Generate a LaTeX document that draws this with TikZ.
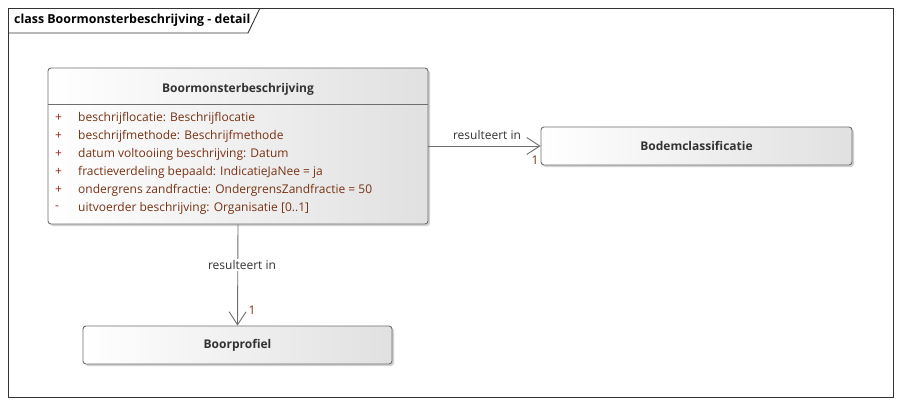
\documentclass[tikz,border=0pt]{standalone}
\usepackage{fontspec}
\setmainfont{Open Sans}
\usetikzlibrary{arrows.meta,shadows,positioning}
\definecolor{attrred}{RGB}{150,40,30}
\definecolor{attrtxt}{RGB}{120,50,20}
\definecolor{linegray}{RGB}{110,110,110}
\tikzset{
    classbox/.style={draw=linegray, line width=0.9pt, rounded corners=3pt, left color=white, right color=black!12,
        drop shadow={shadow xshift=2pt, shadow yshift=-2pt, fill=black!30, opacity=.6}},
    attr/.style={anchor=west, inner sep=0pt, font=\fontsize{12}{14}\selectfont, text=attrtxt},
    vis/.style={anchor=west, inner sep=0pt, font=\fontsize{12}{14}\selectfont, text=attrred},
    assoc/.style={draw=linegray, line width=0.9pt, -{Straight Barb[length=13pt, width=17pt]}},
    lbl/.style={inner sep=1pt, font=\fontsize{12}{14}\selectfont, text=black!80},
    cname/.style={font=\fontsize{12}{14}\selectfont\bfseries, text=black!80},
}

\begin{document}
\begin{tikzpicture}[x=1pt, y=-1pt]
    \useasboundingbox (0,0) rectangle (902,405);
    % frame and tab
    \draw[black!80, line width=0.9pt] (8,8) rectangle (893,397);
    \draw[black!80, line width=0.9pt] (8,33) -- (248,33) -- (260,8);
    \node[anchor=west, inner sep=0pt, font=\fontsize{12.4}{14}\selectfont\bfseries] (title) at (14,20) {class Boormonsterbeschrijving - detail};

    % class Boormonsterbeschrijving
    \node[classbox, minimum width=380pt, minimum height=156pt] (boor) at (238,146) {};
    \draw[linegray, line width=0.9pt] (boor.west |- 0,104) -- (boor.east |- 0,104);
    \node[cname] (boorname) at (238,89) {Boormonsterbeschrijving};
    \foreach \v/\t [count=\i] in {+/beschrijflocatie: Beschrijflocatie,
                                  +/beschrijfmethode: Beschrijfmethode,
                                  +/datum voltooiing beschrijving: Datum,
                                  +/fractieverdeling bepaald: IndicatieJaNee = ja,
                                  +/ondergrens zandfractie: OndergrensZandfractie = 50,
                                  -/uitvoerder beschrijving: Organisatie [0..1]} {
        \node[vis] (v\i) at (55,{100+18*\i}) {\v};
        \node[attr] (a\i) at (78,{100+18*\i}) {\t};
    }

    % other classes
    \node[classbox, minimum width=311pt, minimum height=38pt] (bodem) at (696.5,146) {};
    \node[cname] (bodemname) at (bodem) {Bodemclassificatie};
    \node[classbox, minimum width=309pt, minimum height=38pt] (profiel) at (237.5,345) {};
    \node[cname] (profielname) at (profiel) {Boorprofiel};

    % associations
    \draw[assoc] (boor.east |- bodem.west) -- (bodem.west);
    \node[lbl] (r1) at (487,135) {resulteert in};
    \node[lbl, text=attrtxt] (m1) at (535,160) {1};
    \draw[assoc] (boor.south) -- (profiel.north);
    \node[lbl, fill=white] (r2) at (242,265) {resulteert in};
    \node[lbl, text=attrtxt] (m2) at (252,310) {1};
\end{tikzpicture}
\end{document}
